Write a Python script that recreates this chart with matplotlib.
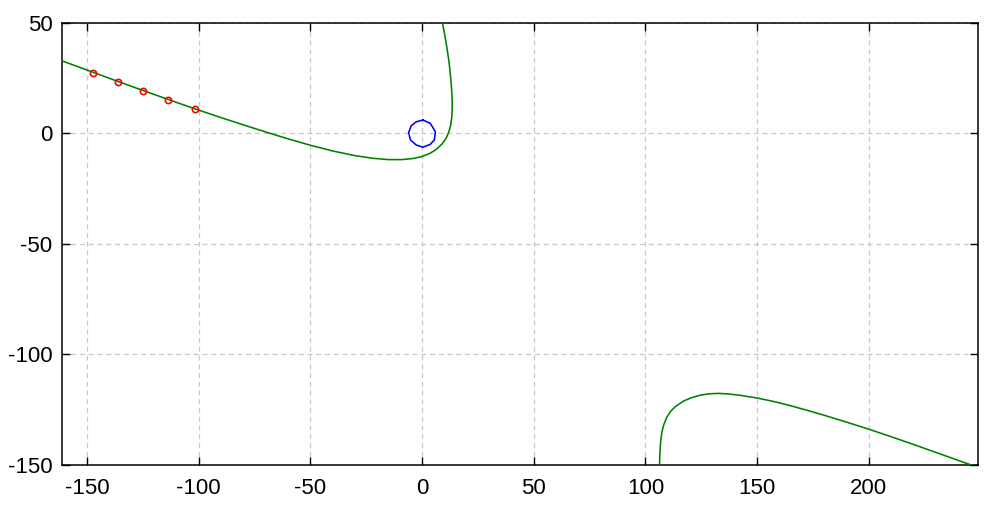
import matplotlib
matplotlib.use("Agg")
import matplotlib.pyplot as plt

# upper branch of the green curve
upper_x = [-165, -161, -150, -140, -130, -120, -110, -100, -90, -80, -70, -60, -50, -40, -30, -22,
           -15, -9, -4, 0, 3.5, 6.5, 9.0, 10.8, 12.0, 12.8, 13.3, 13.5, 13.5, 13.3, 13.0, 12.6,
           12.1, 11.4, 10.6, 9.8, 9.2, 8.6]
upper_y = [34.2, 32.7, 28.6, 24.9, 21.2, 17.6, 14.0, 10.5, 7.1, 3.8, 0.6, -2.5, -5.4, -8.0, -10.1, -11.3,
           -11.9, -11.9, -11.4, -10.5, -9.1, -7.2, -4.8, -2.2, 0.6, 3.5, 7.0, 11.0, 15.0, 19.0, 23.0, 27.5,
           32.0, 37.0, 42.0, 46.5, 49.7, 53.0]

# lower branch of the green curve
lower_x = [106.2, 106.3, 106.5, 106.8, 107.3, 108.2, 109.5, 111.2, 113.5, 117.2, 120.5, 124.6, 128.5,
           132.8, 137.5, 142.5, 150, 157.5, 165, 172.5, 180, 190, 200, 210, 220, 230, 240, 250]
lower_y = [-155, -150, -144, -139.5, -135.5, -131.8, -128.5, -125.8, -123.5, -121.0, -119.6, -118.4, -117.8,
           -117.6, -117.9, -118.5, -119.7, -121.3, -123.2, -125.3, -127.5, -130.6, -133.8, -137.2, -140.7,
           -144.3, -147.9, -151.5]

# red open markers on the upper branch
marker_x = [-147.1, -136.1, -124.9, -113.5, -101.5]
marker_y = [27.4, 23.3, 19.1, 15.1, 10.9]

# blue polygonal circle around the origin
circle_x = [0.4, 3.7, 6.0, 5.5, 3.7, 0.4, -2.6, -5.2, -6.0, -4.9, -2.6, 0.4]
circle_y = [6.0, 4.5, 0.7, -3.0, -5.0, -6.3, -5.3, -3.0, 0.3, 3.3, 5.2, 6.0]

xticks = [-150, -100, -50, 0, 50, 100, 150, 200]
yticks = [-150, -100, -50, 0, 50]

plt.rcParams['font.family'] = ['Liberation Sans', 'DejaVu Sans']
plt.rcParams['axes.unicode_minus'] = False

fig = plt.figure(figsize=(9.99, 5.08), dpi=100)
ax = fig.add_axes([0.0624, 0.0846, 0.9169, 0.8707])

ax.plot(upper_x, upper_y, color='#008000', lw=1.15, zorder=3)
ax.plot(lower_x, lower_y, color='#008000', lw=1.15, zorder=3)
ax.plot(circle_x, circle_y, color='#0000ff', lw=1.15, zorder=3)
ax.plot(marker_x, marker_y, ls='none', marker='o', ms=4.5, mfc='none', mec='#ff0000', mew=1.2, zorder=4)

ax.set_xlim(-161, 249)
ax.set_ylim(-150, 50)
ax.set_xticks(xticks)
ax.set_yticks(yticks)
ax.grid(True, color='#c8c8c8', ls=(0, (4, 3)), lw=0.9)
ax.tick_params(direction='in', length=5.5, width=1.0, top=True, right=True, labelsize=16, pad=7)
ax.tick_params(axis='x', pad=9)
for s in ax.spines.values():
    s.set_linewidth(1.1)

fig.savefig('out.png', dpi=100)
